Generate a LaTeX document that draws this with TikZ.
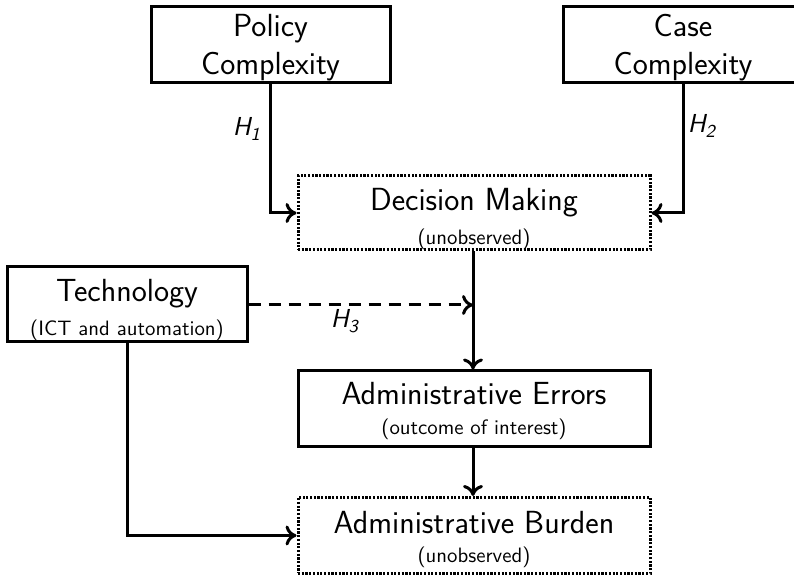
\documentclass[tikz,border=0pt]{standalone}
\usetikzlibrary{arrows.meta}
\begin{document}
\begin{tikzpicture}[x=0.5pt,y=-0.5pt,
  font=\sffamily,
  solidbox/.style={draw, line width=1.5pt, inner sep=0pt},
  dotbox/.style={draw, line width=1.5pt, dash pattern=on 1.1pt off 0.75pt, inner sep=0pt},
  arr/.style={line width=1.5pt, -{To[length=5.5pt,width=10pt,line width=1.5pt]}},
  big/.style={anchor=base, inner sep=0pt, font=\sffamily\fontsize{16}{19}\selectfont},
  sub/.style={anchor=base, inner sep=0pt, font=\sffamily\fontsize{10.4}{12}\selectfont},
  hlab/.style={anchor=base, inner sep=0pt, font=\sffamily\itshape\fontsize{13}{15}\selectfont}
]
\useasboundingbox (0,0) rectangle (794,576);
% boxes
\node[solidbox, minimum width=119.5pt, minimum height=38pt] (pol) at (270.5,45) {};
\node[solidbox, minimum width=120pt, minimum height=38pt] (cas) at (683,45) {};
\node[dotbox, minimum width=176pt, minimum height=37pt] (dm) at (474,213) {};
\node[solidbox, minimum width=120pt, minimum height=37.5pt] (tec) at (127,304.5) {};
\node[solidbox, minimum width=176pt, minimum height=38pt] (ae) at (474,409) {};
\node[dotbox, minimum width=176pt, minimum height=38pt] (ab) at (474,535.5) {};
% texts
\node[big] (pol1) at (270.5,37) {Policy};
\node[big] (pol2) at (270.5,75) {Complexity};
\node[big] (cas1) at (683,37) {Case};
\node[big] (cas2) at (683,75) {Complexity};
\node[big] (dm1) at (474,211) {Decision Making};
\node[sub] (dm2) at (474,245) {(unobserved)};
\node[big] (tec1) at (127,302) {Technology};
\node[sub] (tec2) at (127,336) {(ICT and automation)};
\node[big] (ae1) at (474,405) {Administrative Errors};
\node[sub] (ae2) at (474,435) {(outcome of interest)};
\node[big] (ab1) at (474,534) {Administrative Burden};
\node[sub] (ab2) at (474,563) {(unobserved)};
% connectors
\draw[arr] (pol.south) |- (dm.west);
\draw[arr] (cas.south) |- (dm.east);
\node[hlab] (h1) at (247,136) {H\textsubscript{1}};
\node[hlab] (h2) at (702,133) {H\textsubscript{2}};
\draw[arr] (dm.south -| 473,0) -- (ae.north -| 473,0);
\coordinate (dj) at (473,305);
\draw[arr, dash pattern=on 6pt off 4pt] (tec.east |- dj) -- (dj);
\node[hlab] (h3) at (345,328) {H\textsubscript{3}};
\draw[arr] (tec.south) |- (ab.west);
\draw[arr] (ae.south -| 473,0) -- (ab.north -| 473,0);
\end{tikzpicture}
\end{document}
